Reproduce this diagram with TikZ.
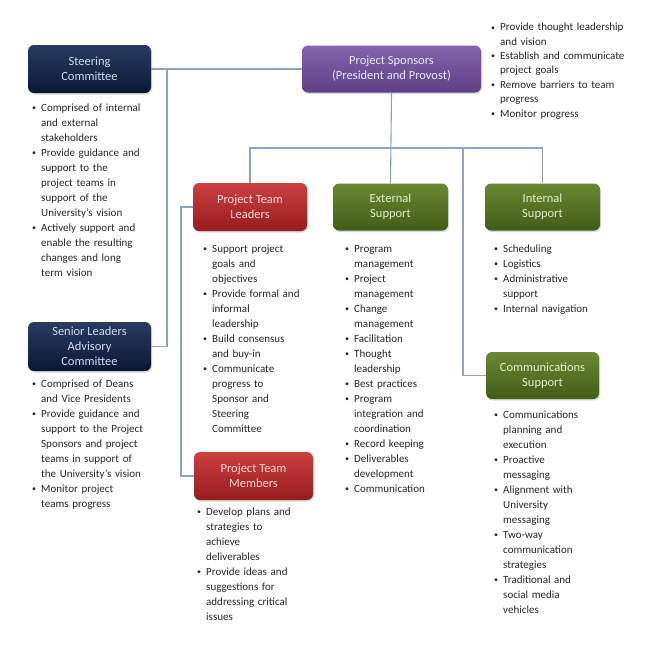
\documentclass[tikz,border=0pt]{standalone}
\usepackage{fontspec}
\setmainfont{Carlito}
\usetikzlibrary{positioning}
\usetikzlibrary{shadows}
\definecolor{ln}{RGB}{140,162,190}
\definecolor{txt}{RGB}{38,38,38}
\definecolor{navyT}{RGB}{40,60,96}
\definecolor{navyB}{RGB}{10,24,52}
\definecolor{navyX}{RGB}{206,220,240}
\definecolor{purpT}{RGB}{132,100,172}
\definecolor{purpB}{RGB}{94,64,134}
\definecolor{purpX}{RGB}{236,230,246}
\definecolor{redT}{RGB}{204,64,64}
\definecolor{redB}{RGB}{150,28,30}
\definecolor{redX}{RGB}{248,218,218}
\definecolor{grnT}{RGB}{106,136,52}
\definecolor{grnB}{RGB}{66,92,22}
\definecolor{grnX}{RGB}{226,238,206}
\newcommand{\bitem}[1]{\par\noindent\hangindent=9pt\hangafter=1%
  \makebox[9pt][l]{\raisebox{0.5pt}{\fontsize{8}{8}\selectfont\textbullet}}%
  \begingroup\let\\\newline#1\endgroup\par}
\tikzset{
  box/.style={rounded corners=6pt, align=center, inner sep=0pt,
    font=\fontsize{12.5}{15}\selectfont,
    drop shadow={opacity=0.3, shadow xshift=1pt, shadow yshift=-1.5pt}},
  navybox/.style={box, top color=navyT, bottom color=navyB, text=navyX},
  purpbox/.style={box, top color=purpT, bottom color=purpB, text=purpX},
  redbox/.style={box, top color=redT, bottom color=redB, text=redX},
  grnbox/.style={box, top color=grnT, bottom color=grnB, text=grnX},
  blist/.style={anchor=north west, inner sep=0pt, text width=170pt,
    text=txt, font=\fontsize{11}{15}\selectfont},
  link/.style={line width=1.1pt, color=ln}
}

\begin{document}
\begin{tikzpicture}
\useasboundingbox (0,0) rectangle (668pt,-654pt);
% boxes
\node (steer) [navybox, minimum width=123pt, minimum height=48pt] at (89.5pt, -69pt) {Steering\\Committee};
\node (spons) [purpbox, minimum width=179pt, minimum height=47pt] at (391.5pt, -69pt) {Project Sponsors\\(President and Provost)};
\node (ptl) [redbox, minimum width=114pt, minimum height=48pt] at (250pt, -207pt) {Project Team\\Leaders};
\node (ext) [grnbox, minimum width=115pt, minimum height=47pt] at (390.5pt, -207pt) {External\\Support};
\node (int) [grnbox, minimum width=115pt, minimum height=47pt] at (542.5pt, -207pt) {Internal\\Support};
\node (comm) [grnbox, minimum width=113pt, minimum height=47pt] at (542.5pt, -375.5pt) {Communications\\Support};
\node (senior) [navybox, minimum width=123pt, minimum height=49pt] at (89.5pt, -346.5pt) {Senior Leaders\\Advisory\\Committee};
\node (memb) [redbox, minimum width=119pt, minimum height=48pt] at (253.5pt, -476pt) {Project Team\\Members};
% junctions
\coordinate (jl) at (167pt, -69pt);
\coordinate (busr) at (542.5pt, -148pt);
\coordinate (busc) at (463pt, -148pt);
\coordinate (jm) at (181pt, -207pt);
% connectors
\draw [link] (steer) -- (spons);
\draw [link] (jl) |- (senior.east);
\draw [link] (spons.south) -- (ext.north);
\draw [link] (ptl.north) |- (busr) -- (int.north);
\draw [link] (busc) |- (comm.west);
\draw [link] (ptl.west) -- (jm) |- (memb.west);
% bullet lists
\node (steerl) [blist] at (32pt, -96pt) {%
\bitem{Comprised of internal\\and external\\stakeholders}
\bitem{Provide guidance and\\support to the\\project teams in\\support of the\\University’s vision}
\bitem{Actively support and\\enable the resulting\\changes and long\\term vision}};
\node (sponsl) [blist, font=\fontsize{11}{14.4}\selectfont] at (491pt, -16pt) {%
\bitem{Provide thought leadership\\and vision}
\bitem{Establish and communicate\\project goals}
\bitem{Remove barriers to team\\progress}
\bitem{Monitor progress}};
\node (ptll) [blist] at (203pt, -237pt) {%
\bitem{Support project\\goals and\\objectives}
\bitem{Provide formal and\\informal\\leadership}
\bitem{Build consensus\\and buy-in}
\bitem{Communicate\\progress to\\Sponsor and\\Steering\\Committee}};
\node (extl) [blist] at (345pt, -237pt) {%
\bitem{Program\\management}
\bitem{Project\\management}
\bitem{Change\\management}
\bitem{Facilitation}
\bitem{Thought\\leadership}
\bitem{Best practices}
\bitem{Program\\integration and\\coordination}
\bitem{Record keeping}
\bitem{Deliverables\\development}
\bitem{Communication}};
\node (intl) [blist] at (494pt, -237pt) {%
\bitem{Scheduling}
\bitem{Logistics}
\bitem{Administrative\\support}
\bitem{Internal navigation}};
\node (comml) [blist] at (494pt, -403pt) {%
\bitem{Communications\\planning and\\execution}
\bitem{Proactive\\messaging}
\bitem{Alignment with\\University\\messaging}
\bitem{Two-way\\communication\\strategies}
\bitem{Traditional and\\social media\\vehicles}};
\node (seniorl) [blist] at (32pt, -372pt) {%
\bitem{Comprised of Deans\\and Vice Presidents}
\bitem{Provide guidance and\\support to the Project\\Sponsors and project\\teams in support of\\the University’s vision}
\bitem{Monitor project\\teams progress}};
\node (membl) [blist] at (197pt, -500pt) {%
\bitem{Develop plans and\\strategies to\\achieve\\deliverables}
\bitem{Provide ideas and\\suggestions for\\addressing critical\\issues}};
\end{tikzpicture}
\end{document}
